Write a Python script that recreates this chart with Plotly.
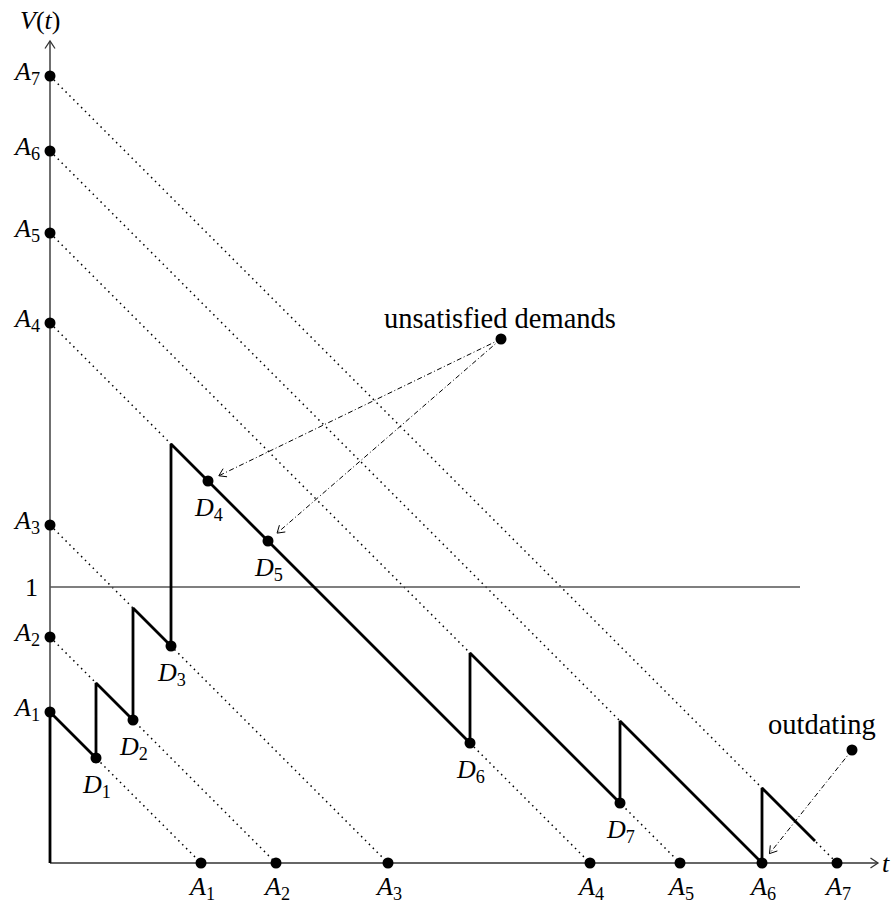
import numpy as np
import plotly.graph_objects as go

# ---------------- data (units: 1 = 100 px of the original drawing) ----------------
arrivals = [1.51, 2.26, 3.38, 5.40, 6.30, 7.12, 7.87]          # A_1..A_7 (t-axis and V-axis)
arrival_labels = ["A<sub>%d</sub>" % i for i in range(1, 8)]
demands = [0.46, 0.83, 1.21, 1.58, 2.18, 4.20, 5.70]           # D_1..D_7
demand_satisfied = [True, True, True, False, False, True, True]
demand_labels = ["D<sub>%d</sub>" % i for i in range(1, 8)]
t_end = 7.65
level_one = 2.76
level_end = 7.50
x_axis_end = 8.28
y_axis_end = 8.22

unsat_source = (4.51, 5.24)
unsat_text_pos = (4.50, 5.45)
outdate_source = (8.02, 1.13)
outdate_text_pos = (7.72, 1.39)

FONT = "Liberation Serif, DejaVu Serif, serif"
MATH = 26
TEXT = 28.5

# ---------------- V(t) path ----------------
pts = [(0.0, 0.0), (0.0, arrivals[0])]
k = 0
jumps = [d for d, s in zip(demands, demand_satisfied) if s] + [t_end]
for j, tj in enumerate(jumps):
    while arrivals[k] < tj:
        pts.append((arrivals[k], 0.0))
        k += 1
        pts.append((arrivals[k - 1], arrivals[k] - arrivals[k - 1]))
    pts.append((tj, arrivals[k] - tj))
    if j < len(jumps) - 1:
        k += 1
        pts.append((tj, arrivals[k] - tj))
px, py = zip(*pts)


def V_before(t):
    kk = 0
    for d, s in zip(demands, demand_satisfied):
        if s and d < t:
            kk += 1
    while arrivals[kk] < t:
        kk += 1
    return arrivals[kk] - t


demand_y = [V_before(d) for d in demands]

fig = go.Figure()

# dotted lifetime lines
for a in arrivals:
    fig.add_trace(go.Scatter(x=[0, a], y=[a, 0], mode="lines",
                             line=dict(color="black", width=1.5, dash="1.5px,4px"),
                             hoverinfo="skip", showlegend=False))

# axes
fig.add_trace(go.Scatter(x=[0, x_axis_end], y=[0, 0], mode="lines",
                         line=dict(color="#333333", width=1.4), showlegend=False, hoverinfo="skip"))
fig.add_trace(go.Scatter(x=[0, 0], y=[0, y_axis_end], mode="lines",
                         line=dict(color="#333333", width=1.4), showlegend=False, hoverinfo="skip"))
# level 1
fig.add_trace(go.Scatter(x=[0, level_end], y=[level_one, level_one], mode="lines",
                         line=dict(color="#555555", width=1.6), showlegend=False, hoverinfo="skip"))


def chevron(tip, direction, L=0.075, W=0.05, color="#333333", width=1.3):
    d = np.array(direction, float)
    d /= np.linalg.norm(d)
    p = np.array([-d[1], d[0]])
    t = np.array(tip, float)
    a = t - L * d + W * p
    b = t - L * d - W * p
    fig.add_trace(go.Scatter(x=[a[0], t[0], b[0]], y=[a[1], t[1], b[1]], mode="lines",
                             line=dict(color=color, width=width), showlegend=False, hoverinfo="skip"))


chevron((x_axis_end, 0), (1, 0))
chevron((0, y_axis_end), (0, 1))

# V(t)
fig.add_trace(go.Scatter(x=px, y=py, mode="lines",
                         line=dict(color="black", width=2.8), showlegend=False, hoverinfo="skip"))


def dashdot_arrow(src, target, shorten=0.12):
    s = np.array(src, float)
    t = np.array(target, float)
    d = t - s
    d /= np.linalg.norm(d)
    tip = t - shorten * d
    fig.add_trace(go.Scatter(x=[s[0], tip[0]], y=[s[1], tip[1]], mode="lines",
                             line=dict(color="black", width=1, dash="5px,2.5px,1px,2.5px"),
                             showlegend=False, hoverinfo="skip"))
    chevron(tip, d, L=0.07, W=0.045, color="black", width=1)


dashdot_arrow(unsat_source, (demands[3], demand_y[3]))
dashdot_arrow(unsat_source, (demands[4], demand_y[4]))
dashdot_arrow(outdate_source, (arrivals[5], 0))

# dots
dot = dict(color="black", size=11)
fig.add_trace(go.Scatter(x=[0] * len(arrivals), y=arrivals, mode="markers", marker=dot,
                         showlegend=False, hoverinfo="skip"))
fig.add_trace(go.Scatter(x=arrivals, y=[0] * len(arrivals), mode="markers", marker=dot,
                         showlegend=False, hoverinfo="skip"))
fig.add_trace(go.Scatter(x=demands, y=demand_y, mode="markers", marker=dot,
                         showlegend=False, hoverinfo="skip"))
fig.add_trace(go.Scatter(x=[unsat_source[0], outdate_source[0]],
                         y=[unsat_source[1], outdate_source[1]], mode="markers", marker=dot,
                         showlegend=False, hoverinfo="skip"))

ann = []
mf = dict(family=FONT, size=MATH, color="black")
for a, lab in zip(arrivals, arrival_labels):
    ann.append(dict(x=0, y=a, text="<i>A</i>" + lab[1:], xanchor="right", yanchor="middle",
                    xshift=-8, yshift=3, showarrow=False, font=mf))
    ann.append(dict(x=a, y=0, text="<i>A</i>" + lab[1:], xanchor="center", yanchor="top",
                    yshift=-7, showarrow=False, font=mf))
for d, v, lab in zip(demands, demand_y, demand_labels):
    ann.append(dict(x=d, y=v, text="<i>D</i>" + lab[1:], xanchor="center", yanchor="top",
                    yshift=-10, showarrow=False, font=mf))
ann.append(dict(x=0, y=level_one, text="1", xanchor="right", yanchor="middle",
                xshift=-10, showarrow=False, font=mf))
ann.append(dict(x=0, y=y_axis_end, text="<i>V</i>(<i>t</i>)", xanchor="center", yanchor="bottom",
                xshift=-10, yshift=4, showarrow=False, font=mf))
ann.append(dict(x=x_axis_end, y=0, text="<i>t</i>", xanchor="left", yanchor="middle",
                xshift=2, showarrow=False, font=mf))
tf = dict(family=FONT, size=TEXT, color="black")
ann.append(dict(x=unsat_text_pos[0], y=unsat_text_pos[1], text="unsatisfied demands",
                xanchor="center", yanchor="middle", showarrow=False, font=tf))
ann.append(dict(x=outdate_text_pos[0], y=outdate_text_pos[1], text="outdating",
                xanchor="center", yanchor="middle", showarrow=False, font=tf))

fig.update_layout(
    width=894, height=905, autosize=False,
    margin=dict(l=0, r=0, t=0, b=0),
    paper_bgcolor="white", plot_bgcolor="white",
    xaxis=dict(range=[-0.5, 8.44], visible=False, fixedrange=True),
    yaxis=dict(range=[-0.42, 8.63], visible=False, fixedrange=True),
    annotations=ann,
    showlegend=False,
)
fig.write_html("out.html", config={"displayModeBar": False},
               post_script="document.body.style.margin='0px';document.body.style.overflow='hidden';")
